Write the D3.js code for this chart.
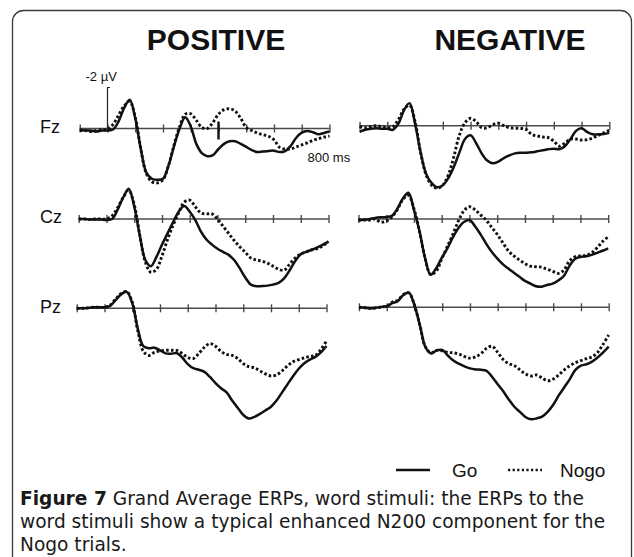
<!DOCTYPE html>
<html>
<head>
<meta charset="utf-8">
<script src="https://cdn.jsdelivr.net/npm/d3@7/dist/d3.min.js"></script>
<style>
  body { margin: 0; background: #fff; }
  svg { display: block; }
</style>
</head>
<body>
<div id="chart"></div>
<script>
// ----------------------
// Grand average ERPs, word stimuli (Go vs Nogo)
// ----------------------

// sample times (ms) shared by every waveform
const times = [-100, -80, -60, -40, -20, 0, 20, 40, 60, 80, 100, 120, 140, 160, 180, 200,
    220, 240, 260, 280, 300, 320, 340, 360, 380, 400, 420, 440, 460, 480, 500, 520,
    540, 560, 580, 600, 620, 640, 660, 680, 700, 720, 740, 760, 780, 800];
const tickTimes = [-100, 0, 100, 200, 300, 400, 500, 600, 700, 800];
const electrodes = ["Fz", "Cz", "Pz"];
const conditions = ["POSITIVE", "NEGATIVE"];
const legendItems = ["Go", "Nogo"];

// amplitudes in µV (negative plotted up)
const posFzGo = [0.05, 0.1, 0.1, 0.15, 0.1, 0.1, 0.05, -0.35, -1.0, -1.4, -0.5, 1.0, 2.15, 2.45, 2.5, 2.45,
    1.8, 0.85, 0.0, -0.55, -0.1, 0.75, 1.2, 1.35, 1.3, 1.0, 0.75, 0.62, 0.62, 0.75, 0.9, 1.05,
    1.15, 1.12, 1.1, 1.08, 1.15, 1.1, 0.85, 0.45, 0.2, 0.12, 0.18, 0.28, 0.22, 0.15];
const posFzNogo = [0.1, 0.1, 0.15, 0.1, 0.05, 0.05, -0.2, -0.65, -1.1, -1.32, -0.55, 1.0, 2.2, 2.6, 2.65, 2.5,
    1.8, 0.8, -0.1, -0.7, -0.72, -0.4, -0.05, 0.0, -0.3, -0.7, -0.92, -0.96, -0.85, -0.5, -0.05, 0.1,
    0.22, 0.3, 0.38, 0.55, 0.92, 1.0, 1.0, 0.9, 0.8, 0.7, 0.58, 0.5, 0.42, 0.37];
const negFzGo = [0.3, 0.2, 0.15, 0.13, 0.15, 0.15, 0.2, -0.1, -0.75, -1.1, -0.1, 1.3, 2.35, 2.8, 3.0, 2.9,
    2.55, 2.0, 1.3, 0.65, 0.47, 0.85, 1.35, 1.7, 1.83, 1.75, 1.58, 1.45, 1.35, 1.32, 1.32, 1.3,
    1.25, 1.2, 1.15, 1.12, 1.15, 1.0, 0.65, 0.25, 0.12, 0.3, 0.42, 0.42, 0.4, 0.35];
const negFzNogo = [0.05, 0.1, 0.05, 0.0, 0.05, 0.1, 0.05, -0.3, -0.8, -1.0, -0.2, 1.3, 2.4, 2.9, 3.05, 2.9,
    2.4, 1.5, 0.45, -0.15, -0.36, -0.2, 0.1, 0.1, -0.05, -0.12, 0.0, 0.1, 0.12, 0.13, 0.18, 0.42,
    0.5, 0.55, 0.58, 0.75, 1.0, 0.85, 0.65, 0.65, 0.7, 0.68, 0.6, 0.48, 0.35, 0.22];
const posCzGo = [0.0, 0.0, 0.02, 0.02, 0.03, 0.05, 0.0, -0.45, -1.05, -1.48, -0.6, 0.8, 2.0, 2.3, 1.85, 1.25,
    0.7, 0.15, -0.35, -0.63, -0.35, 0.05, 0.6, 1.0, 1.25, 1.45, 1.6, 1.75, 2.0, 2.4, 2.85, 3.2,
    3.28, 3.27, 3.25, 3.2, 3.12, 2.9, 2.5, 2.05, 1.72, 1.6, 1.5, 1.38, 1.25, 1.1];
const posCzNogo = [0.0, 0.0, 0.02, 0.0, 0.0, 0.0, -0.15, -0.55, -1.05, -1.4, -0.7, 0.8, 2.1, 2.6, 2.45, 1.8,
    1.0, 0.3, -0.3, -0.82, -0.92, -0.6, -0.3, -0.25, -0.25, 0.0, 0.35, 0.7, 1.05, 1.35, 1.62, 1.9,
    2.0, 2.05, 2.15, 2.3, 2.45, 2.5, 2.2, 1.9, 1.7, 1.6, 1.5, 1.45, 1.3, 1.1];
const negCzGo = [0.05, 0.04, 0.0, -0.05, -0.08, -0.1, -0.15, -0.5, -1.0, -1.28, -0.45, 0.6, 1.9, 2.72, 2.4, 1.9,
    1.45, 0.9, 0.45, 0.15, 0.05, 0.35, 0.75, 1.2, 1.6, 1.92, 2.2, 2.42, 2.62, 2.82, 3.02, 3.15,
    3.28, 3.3, 3.22, 3.15, 3.0, 2.78, 2.3, 1.95, 1.85, 1.82, 1.75, 1.65, 1.55, 1.43];
const negCzNogo = [0.05, 0.05, 0.05, 0.0, 0.15, 0.1, -0.1, -0.45, -0.95, -1.15, -0.5, 0.6, 1.9, 2.7, 2.55, 1.95,
    1.35, 0.75, 0.1, -0.4, -0.6, -0.45, -0.2, 0.05, 0.4, 0.75, 1.15, 1.55, 1.8, 2.0, 2.18, 2.3,
    2.33, 2.35, 2.45, 2.55, 2.65, 2.5, 2.05, 1.85, 1.8, 1.78, 1.65, 1.4, 1.1, 0.86];
const posPzGo = [0.0, 0.0, -0.02, -0.05, -0.05, -0.05, -0.12, -0.4, -0.68, -0.8, -0.25, 1.0, 1.85, 1.95, 1.92, 2.05,
    2.2, 2.22, 2.18, 2.4, 2.72, 2.92, 3.0, 3.1, 3.35, 3.65, 3.9, 4.1, 4.5, 4.85, 5.2, 5.38,
    5.3, 5.15, 4.98, 4.8, 4.5, 4.1, 3.7, 3.3, 2.95, 2.68, 2.5, 2.37, 2.15, 1.84];
const posPzNogo = [0.0, 0.0, -0.02, -0.05, -0.05, -0.05, -0.15, -0.45, -0.72, -0.82, -0.3, 1.1, 2.1, 2.3, 2.15, 2.08,
    2.05, 2.05, 2.05, 2.2, 2.4, 2.45, 2.2, 1.9, 1.72, 1.85, 2.1, 2.25, 2.3, 2.45, 2.7, 2.85,
    2.9, 3.05, 3.2, 3.3, 3.25, 3.05, 2.8, 2.6, 2.5, 2.42, 2.35, 2.3, 2.0, 1.6];
const negPzGo = [0.0, 0.02, 0.05, 0.03, -0.02, -0.05, -0.2, -0.3, -0.6, -0.72, -0.1, 0.9, 1.95, 2.25, 2.1, 2.08,
    2.35, 2.6, 2.75, 2.88, 2.98, 3.03, 3.05, 3.1, 3.4, 3.75, 4.1, 4.5, 4.85, 5.1, 5.35, 5.46,
    5.42, 5.33, 5.1, 4.75, 4.3, 3.9, 3.5, 3.05, 2.85, 2.78, 2.65, 2.45, 2.2, 1.92];
const negPzNogo = [0.0, 0.02, 0.05, 0.03, -0.02, -0.05, -0.25, -0.35, -0.62, -0.7, -0.1, 0.9, 1.95, 2.22, 2.1, 2.12,
    2.2, 2.22, 2.28, 2.4, 2.48, 2.42, 2.25, 2.0, 1.9, 2.2, 2.55, 2.75, 2.85, 3.05, 3.25, 3.35,
    3.3, 3.45, 3.58, 3.5, 3.3, 3.05, 2.85, 2.7, 2.6, 2.5, 2.42, 2.2, 1.8, 1.35];

const captionLines = [
    ["Figure 7", " Grand Average ERPs, word stimuli: the ERPs to the"],
    ["", "word stimuli show a typical enhanced N200 component for the"],
    ["", "Nogo trials."]
];

const waves = {
    POSITIVE: { Fz: [posFzGo, posFzNogo], Cz: [posCzGo, posCzNogo], Pz: [posPzGo, posPzNogo] },
    NEGATIVE: { Fz: [negFzGo, negFzNogo], Cz: [negCzGo, negCzNogo], Pz: [negPzGo, negPzNogo] }
};

// ---- layout ----
const width = 634, height = 557;
const msWidth = 27.75;     // px per 100 ms
const uvHeight = 20.5;     // px per µV
const onsetX = { POSITIVE: [107.5, 106.5, 104.5], NEGATIVE: [387.3, 386.2, 386.7] };
const baseY = { POSITIVE: [128.5, 219, 308.3], NEGATIVE: [125.7, 219, 307.3] };
const titleX = { POSITIVE: 216, NEGATIVE: 510 };
const labelY = [127, 217, 307];

const svg = d3.select("#chart")
    .append("svg")
    .attr("width", width)
    .attr("height", height)
    .style("font-family", "'Liberation Sans', Arial, sans-serif");

// frame
svg.append("rect")
    .attr("x", 12.5).attr("y", 10.5)
    .attr("width", 619).attr("height", 570)
    .attr("rx", 11)
    .attr("fill", "none")
    .attr("stroke", "#3a3a3a")
    .attr("stroke-width", 1.3);

// column titles
conditions.forEach(c => {
    svg.append("text")
        .attr("x", titleX[c]).attr("y", 50)
        .attr("text-anchor", "middle")
        .attr("font-size", "30px")
        .attr("font-weight", "bold")
        .attr("fill", "#111")
        .text(c);
});

// row labels
electrodes.forEach((e, i) => {
    svg.append("text")
        .attr("x", 40).attr("y", labelY[i])
        .attr("dy", "0.35em")
        .attr("font-size", "18px")
        .attr("fill", "#111")
        .text(e);
});

const line = (x, y) => d3.line()
    .x((d, i) => x(times[i]))
    .y(d => y(d))
    .curve(d3.curveCatmullRom.alpha(0.5));

conditions.forEach(c => {
    electrodes.forEach((e, i) => {
        const x0 = onsetX[c][i], y0 = baseY[c][i];
        const x = d3.scaleLinear().domain([0, 100]).range([x0, x0 + msWidth]);
        const y = d3.scaleLinear().domain([0, -1]).range([y0, y0 - uvHeight]);

        const g = svg.append("g");

        // time axis with ticks crossing the line
        const axis = d3.axisBottom(x)
            .tickValues(tickTimes)
            .tickSize(4)
            .tickSizeOuter(0)
            .tickFormat("");
        const ax = g.append("g")
            .attr("transform", `translate(0,${y0})`)
            .call(axis);
        ax.select(".domain")
            .attr("d", `M${x(-100)},0H${x(800)}`)
            .attr("stroke", "#4a4a4a")
            .attr("stroke-width", 1.4);
        ax.selectAll(".tick line")
            .attr("y1", -4).attr("y2", 4)
            .attr("stroke", "#4a4a4a")
            .attr("stroke-width", 1.4);

        const [go, nogo] = waves[c][e];

        g.append("path")
            .attr("d", line(x, y)(nogo))
            .attr("fill", "none")
            .attr("stroke", "#111")
            .attr("stroke-width", 2.9)
            .attr("stroke-dasharray", "2.6,2.2");

        g.append("path")
            .attr("d", line(x, y)(go))
            .attr("fill", "none")
            .attr("stroke", "#111")
            .attr("stroke-width", 2.5)
            .attr("stroke-linejoin", "round");

        if (c === "POSITIVE" && e === "Fz") {
            // amplitude calibration bar (-2 µV)
            g.append("path")
                .attr("d", `M${x(0)},${y(0)}V${y(-2)}h2.5`)
                .attr("fill", "none")
                .attr("stroke", "#222")
                .attr("stroke-width", 1.2);
            g.append("text")
                .attr("x", x(0) - 22).attr("y", y(-2) - 7)
                .attr("font-size", "13px")
                .attr("fill", "#111")
                .text("-2 µV");
            // marker at 400 ms
            g.append("line")
                .attr("x1", x(400)).attr("x2", x(400))
                .attr("y1", y0 - 7).attr("y2", y0 + 11)
                .attr("stroke", "#111")
                .attr("stroke-width", 2.4);
            g.append("text")
                .attr("x", x(800) - 22).attr("y", y0 + 33)
                .attr("font-size", "13px")
                .attr("fill", "#111")
                .text("800 ms");
        }
    });
});

// legend
const legend = svg.append("g").attr("transform", "translate(396,470)");
legendItems.forEach((name, i) => {
    const lx = i === 0 ? 0 : 112;
    legend.append("line")
        .attr("x1", lx).attr("x2", lx + 34)
        .attr("y1", 0).attr("y2", 0)
        .attr("stroke", "#111")
        .attr("stroke-width", i === 0 ? 2.6 : 2.4)
        .attr("stroke-dasharray", i === 0 ? null : "2.2,2.4");
    legend.append("text")
        .attr("x", lx + (i === 0 ? 56 : 52)).attr("y", 0)
        .attr("dy", "0.35em")
        .attr("font-size", "19px")
        .attr("fill", "#111")
        .text(name);
});

// caption
const caption = svg.append("g")
    .style("font-family", "'DejaVu Sans', sans-serif")
    .attr("font-size", "18.6px")
    .attr("fill", "#1a1a1a");
captionLines.forEach((parts, i) => {
    const t = caption.append("text")
        .attr("x", 20).attr("y", 505 + i * 23);
    if (parts[0]) t.append("tspan").attr("font-weight", "bold").text(parts[0]);
    t.append("tspan").text(parts[1]);
});
</script>
</body>
</html>
